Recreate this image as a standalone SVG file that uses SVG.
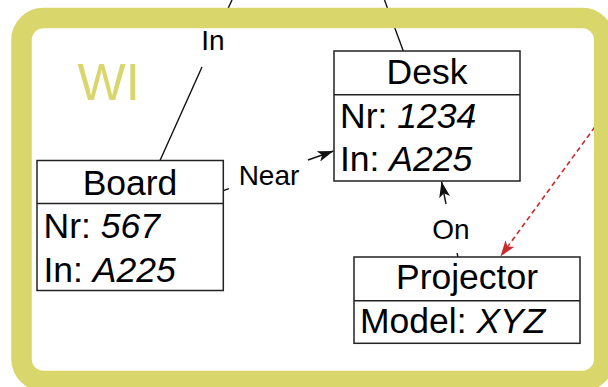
<svg xmlns="http://www.w3.org/2000/svg" width="608" height="387" viewBox="0 0 608 387">
<style>
  .box { fill: #ffffff; stroke: #222222; stroke-width: 1.5; }
  .div { stroke: #222222; stroke-width: 1.5; }
  .title { font-family: "Liberation Sans", Arial, sans-serif; font-size: 35.5px; fill: #000; text-anchor: middle; }
  .attr { font-family: "Liberation Sans", Arial, sans-serif; font-size: 35.5px; fill: #000; }
  .val { font-style: italic; }
  .lbl { font-family: "Liberation Sans", Arial, sans-serif; font-size: 28px; fill: #000; text-anchor: middle; }
  .edge { fill: none; stroke: #111111; stroke-width: 1.4; }
  .dashed { fill: none; stroke: #cc2a2a; stroke-width: 1.6; stroke-dasharray: 5 3.5; }
  .frame { fill: none; stroke: #d9d66b; stroke-width: 20.5; }
  .room { font-family: "Liberation Sans", Arial, sans-serif; font-size: 51px; fill: #d9d66b; }
</style>
<defs>
  <marker id="arrow" viewBox="0 0 16 11" refX="16" refY="5.5" markerWidth="16" markerHeight="11" markerUnits="userSpaceOnUse" orient="auto">
    <path d="M0,0 L16,5.5 L0,11 L4,5.5 z" fill="#111111"/>
  </marker>
  <marker id="arrowRed" viewBox="0 0 16 11" refX="16" refY="5.5" markerWidth="16" markerHeight="11" markerUnits="userSpaceOnUse" orient="auto">
    <path d="M0,0 L16,5.5 L0,11 L4,5.5 z" fill="#cc2a2a"/>
  </marker>
</defs>
<rect width="608" height="387" fill="#ffffff"/>
<g id="connectors">
  <path class="edge" d="M160,160.5 L202,67 M225.5,14 L232,0"/>
  <path class="edge" d="M403.3,51 L384.5,0"/>
  <path class="edge" d="M223.3,190.7 L229,188.6"/>
  <path class="edge" d="M308,160 L333.5,151" marker-end="url(#arrow)"/>
  <path class="edge" d="M457.8,257 L457.2,253"/>
  <path class="edge" d="M446,204 L441.5,181.5" marker-end="url(#arrow)"/>
  <path class="dashed" d="M640,65 L500.5,256.5" marker-end="url(#arrowRed)"/>
  <text class="lbl" x="213" y="50">In</text>
  <text class="lbl" x="269" y="185">Near</text>
  <text class="lbl" x="451" y="239">On</text>
</g>
<g id="WI">
  <rect class="frame" x="21.5" y="18" width="582.75" height="363" rx="22" ry="22"/>
  <text class="room" x="77.5" y="99.5">WI</text>
</g>
<g id="Board">
  <rect class="box" x="37" y="160.5" width="186.3" height="130"/>
  <line class="div" x1="37" y1="203.5" x2="223.3" y2="203.5"/>
  <text class="title" x="130" y="194.5">Board</text>
  <text class="attr" x="43.5" y="238.3">Nr: <tspan class="val">567</tspan></text>
  <text class="attr" x="43.5" y="281.7">In: <tspan class="val">A225</tspan></text>
</g>
<g id="Desk">
  <rect class="box" x="334" y="51" width="186" height="130"/>
  <line class="div" x1="334" y1="94.7" x2="520" y2="94.7"/>
  <text class="title" x="427" y="84">Desk</text>
  <text class="attr" x="340" y="128.3">Nr: <tspan class="val">1234</tspan></text>
  <text class="attr" x="340" y="170.7">In: <tspan class="val">A225</tspan></text>
</g>
<g id="Projector">
  <rect class="box" x="354" y="257" width="226" height="86.3"/>
  <line class="div" x1="354" y1="300.7" x2="580" y2="300.7"/>
  <text class="title" x="467" y="289.3">Projector</text>
  <text class="attr" x="360" y="333.3">Model: <tspan class="val">XYZ</tspan></text>
</g>
</svg>
